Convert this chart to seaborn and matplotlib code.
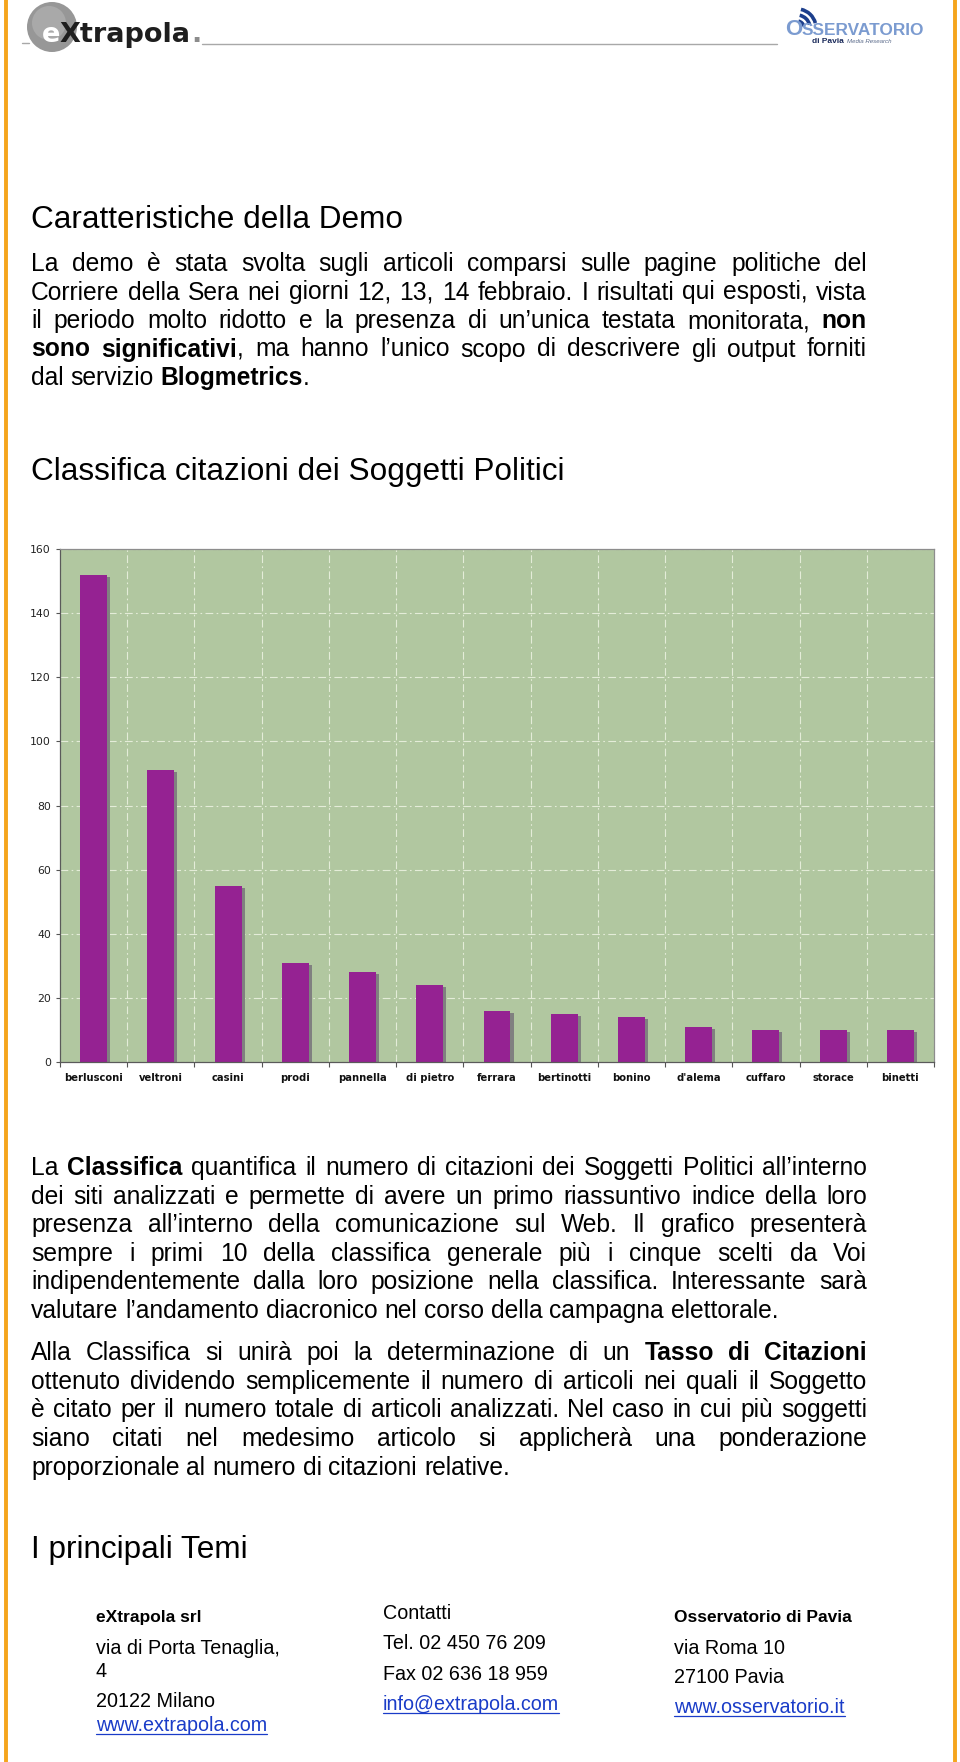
import numpy as np
import pandas as pd
import seaborn as sns
import matplotlib
matplotlib.use("Agg")
import matplotlib.pyplot as plt
import matplotlib.patheffects as pe
from matplotlib.lines import Line2D
from matplotlib.patches import Circle, Arc

# ---------------- data ----------------
politici = ["berlusconi", "veltroni", "casini", "prodi", "pannella", "di pietro",
            "ferrara", "bertinotti", "bonino", "d'alema", "cuffaro", "storace", "binetti"]
citazioni = [152, 91, 55, 31, 28, 24, 16, 15, 14, 11, 10, 10, 10]
y_ticks = [0, 20, 40, 60, 80, 100, 120, 140, 160]

titolo_sezione = "Caratteristiche della Demo"
titolo_grafico = "Classifica citazioni dei Soggetti Politici"
titolo_temi = "I principali Temi"

par1 = [
    "La demo è stata svolta sugli articoli comparsi sulle pagine politiche del",
    "Corriere della Sera nei giorni 12, 13, 14 febbraio. I risultati qui esposti, vista",
    "il periodo molto ridotto e la presenza di un’unica testata monitorata, *non*",
    "*sono significativi*, ma hanno l’unico scopo di descrivere gli output forniti",
    "dal servizio *Blogmetrics*.",
]
par2 = [
    "La *Classifica* quantifica il numero di citazioni dei Soggetti Politici all’interno",
    "dei siti analizzati e permette di avere un primo riassuntivo indice della loro",
    "presenza all’interno della comunicazione sul Web. Il grafico presenterà",
    "sempre i primi 10 della classifica generale più i cinque scelti da Voi",
    "indipendentemente dalla loro posizione nella classifica. Interessante sarà",
    "valutare l’andamento diacronico nel corso della campagna elettorale.",
]
par3 = [
    "Alla Classifica si unirà poi la determinazione di un *Tasso di Citazioni*",
    "ottenuto dividendo semplicemente il numero di articoli nei quali il Soggetto",
    "è citato per il numero totale di articoli analizzati. Nel caso in cui più soggetti",
    "siano citati nel medesimo articolo si applicherà una ponderazione",
    "proporzionale al numero di citazioni relative.",
]

footer_col1 = [("eXtrapola srl", "head"), ("via di Porta Tenaglia,", "n"), ("4", "n"),
               ("20122 Milano", "n"), ("www.extrapola.com", "link")]
footer_col2 = [("Contatti", "n"), ("Tel. 02 450 76 209", "n"), ("Fax 02 636 18 959", "n"),
               ("info@extrapola.com", "link")]
footer_col3 = [("Osservatorio di Pavia", "head"), ("via Roma 10", "n"), ("27100 Pavia", "n"),
               ("www.osservatorio.it", "link")]

# ---------------- setup ----------------
W, H = 960, 1762
sns.set_theme(style="white")
plt.rcParams["font.family"] = ["Liberation Sans", "DejaVu Sans"]

fig = plt.figure(figsize=(W / 100, H / 100), dpi=100)
fig.patch.set_facecolor("white")
renderer = fig.canvas.get_renderer()

# overlay axes in pixel coordinates for decorations
ov = fig.add_axes([0, 0, 1, 1], zorder=0)
ov.set_xlim(0, W)
ov.set_ylim(H, 0)
ov.axis("off")
ov.patch.set_alpha(0)


def fx(x):
    return x / W


def fy(y):
    return 1 - y / H


def txt(x, y, s, size, weight="normal", color="black", family=None, **kw):
    kwargs = dict(fontsize=size, fontweight=weight, color=color, va="baseline", ha="left")
    if family is not None:
        kwargs["family"] = family
    kwargs.update(kw)
    return fig.text(fx(x), fy(y), s, **kwargs)


def width(t):
    return t.get_window_extent(renderer).width


def space_width(size):
    a = txt(0, 0, "a a", size)
    b = txt(0, 0, "aa", size)
    w = width(a) - width(b)
    a.remove()
    b.remove()
    return w


def parse(line):
    words = [[]]
    state = {"bold": False, "buf": ""}

    def flush():
        if state["buf"]:
            words[-1].append((state["buf"], state["bold"]))
            state["buf"] = ""

    for ch in line:
        if ch == "*":
            flush()
            state["bold"] = not state["bold"]
        elif ch == " ":
            flush()
            words.append([])
        else:
            state["buf"] += ch
    flush()
    return [w for w in words if w]


def place_line(line, x0, x1, y, size, justify):
    words = parse(line)
    objs, widths = [], []
    for w in words:
        pieces, wsum = [], 0
        for p, b in w:
            t = txt(0, y, p, size, "bold" if b else "normal")
            pw = width(t)
            pieces.append((t, pw))
            wsum += pw
        objs.append(pieces)
        widths.append(wsum)
    sp = space_width(size)
    n = len(words)
    if justify and n > 1:
        gap = (x1 - x0 - sum(widths)) / (n - 1)
    else:
        gap = sp
    x = x0
    for pieces in objs:
        for t, pw in pieces:
            t.set_x(fx(x))
            x += pw
        x += gap


def paragraph(lines, x0, x1, y0, dy, size):
    for i, line in enumerate(lines):
        place_line(line, x0, x1, y0 + i * dy, size, i < len(lines) - 1)


# ---------------- page frame ----------------
orange = "#F5A51C"
for xx in (6, 955):
    ov.add_line(Line2D([xx, xx], [0, H], color=orange, lw=2.8))

# header: eXtrapola logo
ov.add_line(Line2D([22, 29], [43, 43], color="#a8a8a8", lw=1.0))
ov.add_patch(Circle((52, 27), 25, color="#979797", lw=0))
ov.add_patch(Circle((49, 23), 17, color="#a9a9a9", lw=0))
t_e = txt(42, 42, "e", 19.5, "bold", color="white", family="DejaVu Sans")
t_x = txt(42 + width(t_e) - 1, 42, "Xtrapola", 19.5, "bold", color="#1e1e1e", family="DejaVu Sans")
txt(42 + width(t_e) + width(t_x), 42, ".", 19.5, "bold", color="#8c8c8c", family="DejaVu Sans")
ov.add_line(Line2D([202, 777], [44, 44], color="#a8a8a8", lw=1.0))

# header: Osservatorio logo
txt(785, 35, "O", 16, "bold", color="#7b9bd0")
for r in (7, 13, 19):
    ov.add_patch(Arc((797, 28), 2 * r, 2 * r, theta1=282, theta2=345, color="#1d3f8c", lw=2.6))
txt(802, 35, "SSERVATORIO", 12.4, "bold", color="#7b9bd0")
t_dp = txt(812, 43, "di Pavia", 6, "bold", color="#1a2a5a")
txt(812 + width(t_dp) + 3, 43, "Media Research", 4.4, "normal", color="#5a6a8a", style="italic")

# ---------------- texts ----------------
BODY = 17.7
HEAD = 22.7
X0, X1 = 31, 867
txt(X0, 228, titolo_sezione, HEAD)
paragraph(par1, X0, X1, 271, 28.5, BODY)
txt(X0, 480, titolo_grafico, HEAD)
paragraph(par2, X0, X1, 1175, 28.6, BODY)
paragraph(par3, X0, X1, 1360, 28.7, BODY)
txt(X0, 1558, titolo_temi, HEAD)

# ---------------- chart ----------------
ax = fig.add_axes([fx(60), fy(1062), (934 - 60) / W, (1062 - 549) / H], zorder=2)
df = pd.DataFrame({"politico": politici, "citazioni": citazioni})
sns.barplot(data=df, x="politico", y="citazioni", color="#952292", saturation=1,
            width=0.4, ax=ax, edgecolor="none", linewidth=0)
for p in ax.patches:
    p.set_path_effects([pe.SimplePatchShadow(offset=(2.2, -1.4), shadow_rgbFace="#808080", alpha=1.0),
                        pe.Normal()])
ax.set_facecolor("#B1C7A0")
ax.set_ylim(y_ticks[0], y_ticks[-1])
ax.set_yticks(y_ticks)
n = len(politici)
ax.set_xlim(-0.5, n - 0.5)
ax.set_xticks(np.arange(-0.5, n, 1.0), minor=True)
ax.set_xlabel("")
ax.set_ylabel("")
ax.set_axisbelow(True)
grid_style = dict(color="#e4ecd8", linestyle=(0, (7, 3, 1.5, 3)), linewidth=0.8)
ax.grid(True, which="major", axis="y", **grid_style)
ax.grid(True, which="minor", axis="x", **grid_style)
ax.grid(False, which="major", axis="x")
ax.tick_params(axis="x", which="major", bottom=False, length=0, pad=8)
ax.tick_params(axis="x", which="minor", bottom=True, length=3.5, width=0.8, color="#555555", direction="out")
ax.tick_params(axis="y", which="major", left=True, length=3, width=0.8, color="#555555",
               direction="out", pad=3.5)
for lab in ax.get_xticklabels():
    lab.set_fontfamily("DejaVu Sans")
    lab.set_fontweight("bold")
    lab.set_fontsize(7.2)
    lab.set_color("#111111")
for lab in ax.get_yticklabels():
    lab.set_fontfamily("DejaVu Sans")
    lab.set_fontsize(7.8)
    lab.set_color("#222222")
for side in ("left", "bottom"):
    ax.spines[side].set_color("#5a5a5a")
    ax.spines[side].set_linewidth(0.9)
for side in ("top", "right"):
    ax.spines[side].set_color("#8d8d8d")
    ax.spines[side].set_linewidth(0.9)
    ax.spines[side].set_visible(True)

# ---------------- footer ----------------
FOOT = 14.2
link_color = "#1a3cc8"


def footer_column(items, x, baselines):
    for (s, kind), y in zip(items, baselines):
        if kind == "head":
            txt(x, y, s, 12.5, "heavy", family=["Liberation Sans Narrow", "Liberation Sans"],
                stretch="condensed")
        elif kind == "link":
            t = txt(x, y, s, FOOT, color=link_color)
            ov.add_line(Line2D([x, x + width(t)], [y + 3, y + 3], color=link_color, lw=0.9))
        else:
            txt(x, y, s, FOOT)


footer_column(footer_col1, 96, [1622, 1654, 1677, 1707, 1731])
footer_column(footer_col2, 383, [1619, 1649, 1680, 1710])
footer_column(footer_col3, 674, [1622, 1654, 1683, 1713])

fig.savefig("out.png", dpi=100, facecolor="white")
